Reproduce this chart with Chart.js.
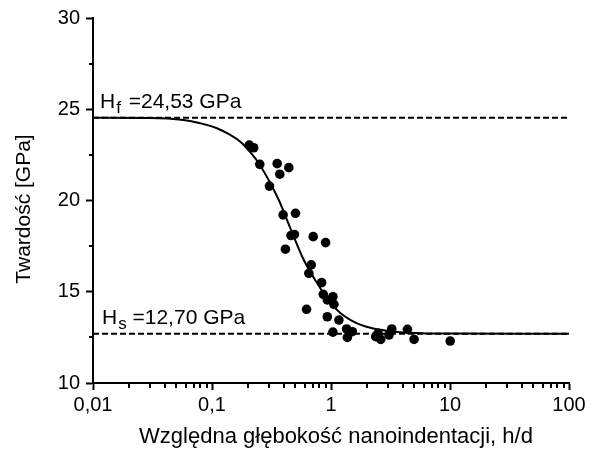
<!DOCTYPE html>
<html><head><meta charset="utf-8">
<script src="https://cdn.jsdelivr.net/npm/chart.js@4"></script>
<style>html,body{margin:0;padding:0;background:#fff;}</style>
</head><body>
<canvas id="c" width="597" height="454" style="display:block"></canvas>
<script>
// measured hardness points (h/d, GPa)
const measuredX = [0.206,0.224,0.252,0.353,0.442,0.371,0.304,0.396,0.503,0.461,0.493,0.709,0.901,0.414,0.682,0.651,0.834,0.861,1.038,0.931,1.058,0.623,0.931,1.166,1.353,1.512,1.038,1.372,2.375,2.618,2.484,3.074,3.24,4.39,4.99,10.04];
const measuredY = [23.04,22.89,21.98,22.02,21.80,21.44,20.79,19.21,19.30,18.08,18.14,18.02,17.69,17.33,16.47,16.01,15.50,14.86,14.73,14.55,14.31,14.04,13.63,13.45,12.96,12.81,12.79,12.50,12.54,12.39,12.72,12.63,12.96,12.94,12.39,12.30];
// fitted curve
const fitX = [0.01,0.0302,0.0576,0.0797,0.110,0.1426,0.173,0.203,0.247,0.364,0.448,0.591,0.767,0.992,1.205,1.463,1.893,2.455,3.388,4.39,10,100];
const fitY = [24.53,24.52,24.41,24.23,23.96,23.59,23.22,22.75,22.04,20.03,18.60,16.74,15.46,14.37,13.82,13.45,13.12,12.94,12.81,12.76,12.71,12.70];
const hf = 24.53, hs = 12.70;
const xRange = [0.01, 100];
const xTickValues = [0.01,0.1,1,10,100];
const xTickLabels = ['0,01','0,1','1','10','100'];
const yTickValues = [10,15,20,25,30];
const yTickLabels = ['10','15','20','25','30'];
const yMinorValues = [12.5,17.5,22.5,27.5];
const xTitle = 'Względna głębokość nanoindentacji, h/d';
const yTitle = 'Twardość [GPa]';
const FONT = 'Liberation Sans';

function fmt(v){ return v.toFixed(2).replace('.', ','); }

const decor = {
  id: 'decor',
  afterDraw(chart){
    const {ctx, chartArea: a} = chart;
    const x = chart.scales.x, y = chart.scales.y;
    ctx.save();
    ctx.strokeStyle = '#000'; ctx.lineWidth = 2; ctx.lineCap = 'butt';
    // minor x ticks
    for (let e = -2; e < 2; e++) {
      for (let m = 2; m <= 9; m++) {
        const px = Math.round(x.getPixelForValue(m * Math.pow(10, e)));
        ctx.beginPath(); ctx.moveTo(px, a.bottom); ctx.lineTo(px, a.bottom + 5); ctx.stroke();
      }
    }
    // minor y ticks
    yMinorValues.forEach(v => {
      const py = Math.round(y.getPixelForValue(v));
      ctx.beginPath(); ctx.moveTo(a.left - 4, py); ctx.lineTo(a.left, py); ctx.stroke();
    });
    // annotations
    ctx.fillStyle = '#000';
    ctx.textBaseline = 'alphabetic'; ctx.textAlign = 'left';
    function sub(main, s, rest, px, py, gap){
      ctx.font = '21px "' + FONT + '"';
      ctx.fillText(main, px, py);
      let w = ctx.measureText(main).width;
      ctx.font = '17px "' + FONT + '"';
      ctx.fillText(s, px + w + 1, py + 5);
      w += ctx.measureText(s).width + 1 + gap;
      ctx.font = '21px "' + FONT + '"';
      ctx.fillText(rest, px + w, py);
    }
    const x0 = x.getPixelForValue(xRange[0]);
    sub('H', 'f', ' =' + fmt(hf) + ' GPa', x0 + 7, y.getPixelForValue(hf) - 10, 2);
    sub('H', 's', ' =' + fmt(hs) + ' GPa', x0 + 9, y.getPixelForValue(hs) - 10, 0);
    // axis titles
    ctx.textAlign = 'center'; ctx.textBaseline = 'middle';
    ctx.font = '22px "' + FONT + '"';
    ctx.fillText(xTitle, 336, 437);
    ctx.translate(24, 209); ctx.rotate(-Math.PI / 2);
    ctx.font = '21px "' + FONT + '"';
    ctx.fillText(yTitle, 0, 0);
    ctx.restore();
  }
};

const tickFont = {family: FONT, size: 20};
new Chart(document.getElementById('c'), {
  type: 'scatter',
  data: {
    datasets: [
      {type: 'scatter', data: measuredX.map((v, i) => ({x: v, y: measuredY[i]})),
       pointRadius: 4.8, pointBackgroundColor: '#000', pointBorderColor: '#000', pointBorderWidth: 0, order: 0},
      {type: 'line', data: fitX.map((v, i) => ({x: v, y: fitY[i]})), borderColor: '#000', borderWidth: 2,
       pointRadius: 0, cubicInterpolationMode: 'monotone', fill: false, order: 1},
      {type: 'line', data: [{x: xRange[0], y: hf}, {x: xRange[1], y: hf}], borderColor: '#000', borderWidth: 2,
       borderDash: [6, 3], pointRadius: 0, fill: false, order: 2},
      {type: 'line', data: [{x: xRange[0], y: hs}, {x: xRange[1], y: hs}], borderColor: '#000', borderWidth: 2,
       borderDash: [6, 3], pointRadius: 0, fill: false, order: 2}
    ]
  },
  options: {
    responsive: false, animation: false, devicePixelRatio: 1,
    layout: {padding: {left: 0, top: 18, right: 28, bottom: 0}},
    plugins: {legend: {display: false}, tooltip: {enabled: false}},
    scales: {
      x: {
        type: 'logarithmic', min: xRange[0], max: xRange[1],
        afterBuildTicks: s => { s.ticks = xTickValues.map(v => ({value: v})); },
        afterFit: s => { s.height = 71; },
        grid: {drawOnChartArea: false, tickLength: 7, tickColor: '#000', tickWidth: 2},
        border: {color: '#000', width: 2},
        ticks: {autoSkip: false, maxRotation: 0, padding: 3, color: '#000', font: tickFont,
                callback: (v, i) => xTickLabels[i]}
      },
      y: {
        type: 'linear', min: 10, max: 30,
        afterBuildTicks: s => { s.ticks = yTickValues.map(v => ({value: v})); },
        afterFit: s => { s.width = 93; },
        grid: {drawOnChartArea: false, tickLength: 7, tickColor: '#000', tickWidth: 2},
        border: {color: '#000', width: 2},
        ticks: {padding: 6, color: '#000', font: tickFont, callback: (v, i) => yTickLabels[i]}
      }
    }
  },
  plugins: [decor]
});
</script>
</body></html>
